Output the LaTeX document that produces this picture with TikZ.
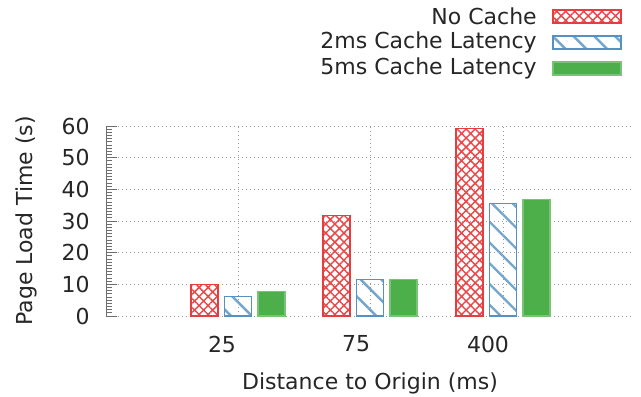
\documentclass[tikz,border=0pt]{standalone}
\usepackage{fontspec}
\setmainfont{DejaVu Sans}
\usetikzlibrary{patterns.meta}
\definecolor{cacheRed}{HTML}{E41A1C}
\definecolor{cacheBlue}{HTML}{377EB8}
\definecolor{cacheGreen}{HTML}{4DAF4A}
\definecolor{axisGray}{RGB}{110,110,110}

\begin{document}
\begin{tikzpicture}[x=0.75pt,y=-0.75pt,
  lbl/.style={font=\fontsize{16.5}{19}\selectfont,text=black!85,inner sep=0pt},
  gridln/.style={gray!80,line width=0.6pt,dash pattern=on 0.75pt off 2.25pt},
  tickln/.style={axisGray,line width=0.6pt},
  nocache/.style={draw=cacheRed!85,line width=1pt,
                  pattern={Hatch[angle=45,distance=4.8pt,line width=1.1pt]},pattern color=cacheRed!80},
  lat2/.style={draw=cacheBlue!85,line width=1pt,
               pattern={Lines[angle=-45,distance=11pt,line width=1.8pt]},pattern color=cacheBlue!70},
  lat5/.style={draw=cacheGreen!75,line width=1pt,fill=cacheGreen},
  keybox/.style={minimum width=51pt,minimum height=9.75pt,inner sep=0pt}
]
  \useasboundingbox (0,0) rectangle (641,396);

  % legend
  \node[lbl,anchor=east](keyNone) at (537,16) {No Cache};
  \node[lbl,anchor=east](key2ms)  at (537,42.5) {2ms Cache Latency};
  \node[lbl,anchor=east](key5ms)  at (537,68.5) {5ms Cache Latency};
  \node[keybox,nocache](swNone) at (587,16.5) {};
  \node[keybox,lat2](sw2ms)     at (587,42.5) {};
  \node[keybox,lat5](sw5ms)     at (587,68.5) {};

  % plot area, y in seconds
  \begin{scope}[shift={(0,316)},y=2.375pt]
    \foreach \v in {0,10,...,60}{
      \draw[gridln] (106,\v) -- (633,\v);
      \draw[tickln] (106,\v) -- (117,\v);
      \node[lbl,anchor=east](ytick\v) at (90,\v) {\v};
    }
    \foreach \v in {1,...,59}
      \draw[tickln] (106,\v) -- (112,\v);
    \foreach \gx in {238,370,503}
      \draw[gridln] (\gx,0) -- (\gx,60);
    \draw[tickln] (106,0) -- (106,60);

    % bars
    \foreach \gx/\nc/\tw/\fv in {238/10/6.1/7.7, 370/31.7/11.6/11.6, 503/59.2/35.6/36.7}{
      \draw[nocache] (\gx-47,0) rectangle (\gx-20,\nc);
      \draw[lat2]    (\gx-13.5,0) rectangle (\gx+13.5,\tw);
      \draw[lat5]    (\gx+20,0) rectangle (\gx+47,\fv);
    }
  \end{scope}

  % axis labels
  \node[lbl](x25)  at (222,344) {25};
  \node[lbl](x75)  at (356,344) {75};
  \node[lbl](x400) at (488,344) {400};
  \node[lbl](xlab) at (370,383) {Distance to Origin (ms)};
  \node[lbl,rotate=90](ylab) at (26,221) {Page Load Time (s)};
\end{tikzpicture}
\end{document}
